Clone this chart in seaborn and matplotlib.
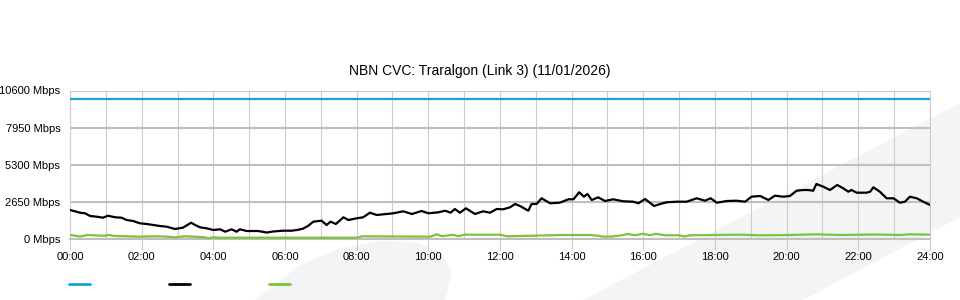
import numpy as np
import pandas as pd
import matplotlib
matplotlib.use("Agg")
import matplotlib.pyplot as plt
from matplotlib.patches import Polygon
from matplotlib.lines import Line2D
import seaborn as sns

# ---------------- data ----------------
title = "NBN CVC: Traralgon (Link 3) (11/01/2026)"

capacity_hours = [0.0, 24.0]
capacity_mbps = [10000, 10000]

usage_hours = [0.00, 0.28, 0.42, 0.56, 0.75, 0.92, 1.06, 1.26, 1.44, 1.58, 1.76, 1.95, 2.14, 2.32,
               2.51, 2.70, 2.93, 3.15, 3.38, 3.49, 3.63, 3.81, 4.00, 4.19, 4.33, 4.51, 4.65, 4.74,
               4.93, 5.12, 5.25, 5.49, 5.67, 5.94, 6.19, 6.33, 6.50, 6.64, 6.79, 7.02, 7.16, 7.27,
               7.42, 7.63, 7.77, 8.00, 8.18, 8.37, 8.56, 8.84, 9.02, 9.30, 9.54, 9.81, 10.00, 10.28,
               10.47, 10.62, 10.74, 10.88, 11.05, 11.30, 11.53, 11.72, 11.91, 12.09, 12.28, 12.42,
               12.56, 12.79, 12.88, 13.02, 13.16, 13.40, 13.67, 13.91, 14.05, 14.21, 14.34, 14.44,
               14.56, 14.74, 14.93, 15.16, 15.44, 15.72, 15.86, 16.05, 16.30, 16.47, 16.65, 16.93,
               17.21, 17.49, 17.72, 17.88, 18.05, 18.33, 18.60, 18.84, 19.02, 19.26, 19.49, 19.67,
               19.91, 20.09, 20.28, 20.46, 20.60, 20.74, 20.83, 21.02, 21.21, 21.41, 21.58, 21.72,
               21.81, 21.95, 22.23, 22.33, 22.42, 22.60, 22.79, 22.98, 23.16, 23.30, 23.44, 23.63,
               23.81, 24.00]
usage_mbps = [2087, 1895, 1852, 1660, 1610, 1539, 1681, 1567, 1539, 1375, 1304, 1140, 1090, 1019,
              947, 898, 734, 826, 1183, 1019, 855, 784, 663, 712, 541, 712, 541, 712,
              591, 591, 591, 484, 556, 613, 613, 663, 755, 947, 1254, 1325, 1019, 1254,
              1090, 1567, 1375, 1496, 1567, 1895, 1731, 1802, 1852, 1995, 1802, 2016, 1852, 1923,
              2037, 1895, 2159, 1895, 2208, 1802, 1995, 1895, 2159, 2137, 2280, 2515,
              2372, 2037, 2515, 2515, 2921, 2565, 2607, 2850, 2850, 3348, 3035, 3227,
              2800, 2992, 2728, 2850, 2707, 2679, 2565, 2871, 2372, 2515, 2636, 2679,
              2679, 2921, 2750, 2921, 2607, 2728, 2750, 2679, 3035, 3085, 2800, 3106,
              3035, 3085, 3462, 3512, 3512, 3462, 3940, 3747, 3512, 3868, 3633, 3391,
              3512, 3320, 3320, 3391, 3704, 3391, 2921, 2921, 2607, 2679, 3035, 2921,
              2679, 2444]

upload_hours = [0.00, 0.28, 0.50, 0.73, 0.98, 1.06, 1.26, 1.95, 2.37, 2.65, 2.93, 3.21, 3.49, 3.77,
                3.85, 3.99, 4.19, 6.00, 8.00, 8.15, 10.05, 10.24, 10.38, 10.69, 10.83, 11.02,
                12.00, 12.20, 12.56, 13.40, 13.67, 14.51, 14.74, 14.87, 15.13, 15.41, 15.57,
                15.77, 15.99, 16.19, 16.35, 16.60, 17.02, 17.13, 17.30, 18.70, 19.26, 20.09,
                20.80, 21.49, 22.47, 23.16, 23.44, 24.00]
upload_mbps = [306, 199, 306, 271, 249, 306, 235, 185, 214, 199, 142, 214, 185, 142,
               71, 142, 114, 114, 114, 214, 185, 356, 221, 321, 221, 328,
               328, 214, 235, 285, 306, 306, 256, 185, 199, 292, 378,
               292, 392, 292, 392, 285, 285, 199, 285, 328, 285, 306,
               356, 306, 342, 306, 356, 328]

y_ticks = [0, 2650, 5300, 7950, 10600]
y_tick_labels = ["0 Mbps", "2650 Mbps", "5300 Mbps", "7950 Mbps", "10600 Mbps"]
x_ticks = list(range(0, 25, 2))
x_tick_labels = [f"{h:02d}:00" for h in x_ticks]

# ---------------- style ----------------
sns.set_style("white")
plt.rcParams["font.family"] = ["Liberation Sans", "DejaVu Sans"]

BLUE = "#1c9fe0"
BLACK = "#000000"
GREEN = "#7dc23c"

W, H = 960, 300
fig = plt.figure(figsize=(9.6, 3.0), dpi=100)
fig.patch.set_facecolor("white")

# faint background watermark shapes (figure pixel coords -> fraction)
def fpoly(pts, **kw):
    p = Polygon([(x / W, 1 - y / H) for x, y in pts], closed=True,
                transform=fig.transFigure, **kw)
    fig.patches.append(p)

wm = "#f3f4f6"
fpoly([(583, 300), (960, 103), (960, 217), (803, 300)], facecolor=wm, edgecolor="none", zorder=-5)
fpoly([(255, 300), (300, 265), (340, 248), (380, 241), (415, 242), (440, 252), (452, 272),
       (445, 300)], facecolor=wm, edgecolor="none", zorder=-5)

ax = fig.add_axes([70 / W, 1 - 239.3 / H, 860 / W, (239.3 - 90.5) / H])
ax.set_facecolor("none")
ax.patch.set_alpha(0)

sns.lineplot(x=capacity_hours, y=capacity_mbps, ax=ax, color=BLUE, linewidth=1.6, zorder=3)
sns.lineplot(x=upload_hours, y=upload_mbps, ax=ax, color=GREEN, linewidth=1.6, zorder=3)
sns.lineplot(x=usage_hours, y=usage_mbps, ax=ax, color=BLACK, linewidth=1.6, zorder=4)

ax.set_xlim(0, 24)
ax.set_ylim(0, 10600)
ax.set_xticks(x_ticks)
ax.set_xticklabels(x_tick_labels)
ax.set_xticks(range(0, 25), minor=True)
ax.set_yticks(y_ticks)
ax.set_yticklabels(y_tick_labels)
ax.set_xlabel("")
ax.set_ylabel("")

ax.grid(False)
ax.xaxis.grid(True, which="both", color="#cccccc", linewidth=0.8, zorder=1)
ax.yaxis.grid(True, which="major", color="#bfbfbf", linewidth=1.5, zorder=1)
ax.set_axisbelow(True)

ax.tick_params(axis="x", which="major", length=8, width=0.8, color="#cccccc",
               labelsize=8, pad=1, labelcolor="#000000", direction="out", bottom=True)
ax.tick_params(axis="x", which="minor", length=0)
ax.tick_params(axis="y", length=0, labelsize=8, pad=7, labelcolor="#000000")

for side in ["top", "right", "left"]:
    ax.spines[side].set_color("#cccccc")
    ax.spines[side].set_linewidth(0.8)
ax.spines["bottom"].set_color("#bfbfbf")
ax.spines["bottom"].set_linewidth(1.5)

fig.text(480 / W, 1 - 71 / H, title, ha="center", va="center", fontsize=10, color="#000000")

# legend (colour keys only)
handles = [Line2D([], [], color=c, linewidth=2) for c in (BLUE, BLACK, GREEN)]
fig.legend(handles, ["", "", ""], loc="center left", bbox_to_anchor=(69 / W, 1 - 285 / H),
           ncol=3, frameon=False, fontsize=8, handlelength=1.9, handletextpad=0,
           columnspacing=7.1, borderpad=0, borderaxespad=0)

fig.savefig("out.png", dpi=100, facecolor="white")
